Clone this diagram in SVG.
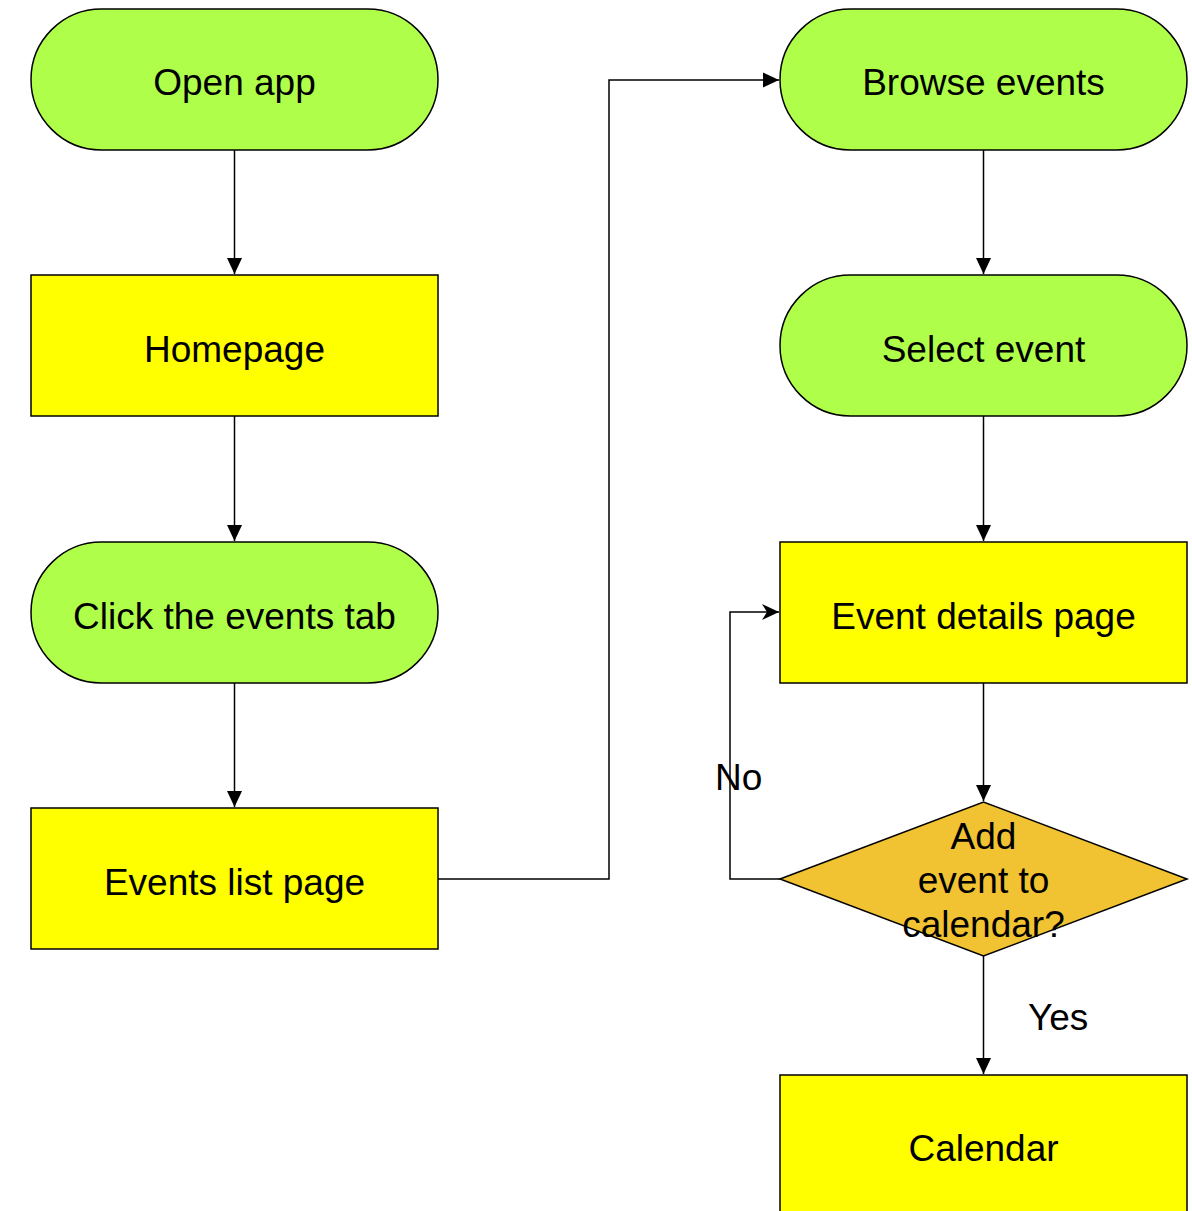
<svg xmlns="http://www.w3.org/2000/svg" width="1192" height="1211" viewBox="0 0 1192 1211">
<style>
.term{fill:#afff4a;stroke:#000;stroke-width:1.5}
.proc{fill:#ffff00;stroke:#000;stroke-width:1.5}
.dec{fill:#f1c232;stroke:#000;stroke-width:1.5}
.t{font-family:"Liberation Sans",Arial,sans-serif;font-size:37px;fill:#000;text-anchor:middle}
.l{font-family:"Liberation Sans",Arial,sans-serif;font-size:37px;fill:#000}
.c{fill:none;stroke:#000;stroke-width:1.5}
</style>
<defs>
<marker id="a" markerWidth="18" markerHeight="18" refX="16" refY="8" orient="auto" markerUnits="userSpaceOnUse">
<path d="M0,0.5 L16,8 L0,15.5 Z" fill="#000"/>
</marker>
<marker id="s" markerWidth="18" markerHeight="16" refX="17" refY="8" orient="auto" markerUnits="userSpaceOnUse">
<path d="M0,0 L17,8 L0,16 L5,8 Z" fill="#000"/>
</marker>
</defs>
<g id="connectors">
<path class="c" d="M234.5,150 V274" marker-end="url(#a)"/>
<path class="c" d="M234.5,416 V541" marker-end="url(#a)"/>
<path class="c" d="M234.5,683 V807" marker-end="url(#a)"/>
<path class="c" d="M438,879 H609 V80 H779" marker-end="url(#a)"/>
<path class="c" d="M983.5,150 V274" marker-end="url(#a)"/>
<path class="c" d="M983.5,416 V541" marker-end="url(#a)"/>
<path class="c" d="M983.5,683 V801" marker-end="url(#a)"/>
<path class="c" d="M780,879 H730 V612 H779" marker-end="url(#s)"/>
<path class="c" d="M983.5,956 V1074" marker-end="url(#a)"/>
<text class="l" x="715" y="790">No</text>
<text class="l" x="1028" y="1030">Yes</text>
</g>
<g id="open-app">
<rect class="term" x="31" y="9" width="407" height="141" rx="70.5"/>
<text class="t" x="234.5" y="95">Open app</text>
</g>
<g id="homepage">
<rect class="proc" x="31" y="275" width="407" height="141"/>
<text class="t" x="234.5" y="362">Homepage</text>
</g>
<g id="click-events-tab">
<rect class="term" x="31" y="542" width="407" height="141" rx="70.5"/>
<text class="t" x="234.5" y="629">Click the events tab</text>
</g>
<g id="events-list-page">
<rect class="proc" x="31" y="808" width="407" height="141"/>
<text class="t" x="234.5" y="895">Events list page</text>
</g>
<g id="browse-events">
<rect class="term" x="780" y="9" width="407" height="141" rx="70.5"/>
<text class="t" x="983.5" y="95">Browse events</text>
</g>
<g id="select-event">
<rect class="term" x="780" y="275" width="407" height="141" rx="70.5"/>
<text class="t" x="983.5" y="362">Select event</text>
</g>
<g id="event-details-page">
<rect class="proc" x="780" y="542" width="407" height="141"/>
<text class="t" x="983.5" y="629">Event details page</text>
</g>
<g id="add-to-calendar">
<polygon class="dec" points="780,879 983.5,802 1187,879 983.5,956"/>
<text class="t" x="983.5" y="849">Add</text>
<text class="t" x="983.5" y="893">event to</text>
<text class="t" x="983.5" y="937">calendar?</text>
</g>
<g id="calendar">
<rect class="proc" x="780" y="1075" width="407" height="160"/>
<text class="t" x="983.5" y="1161">Calendar</text>
</g>
</svg>
